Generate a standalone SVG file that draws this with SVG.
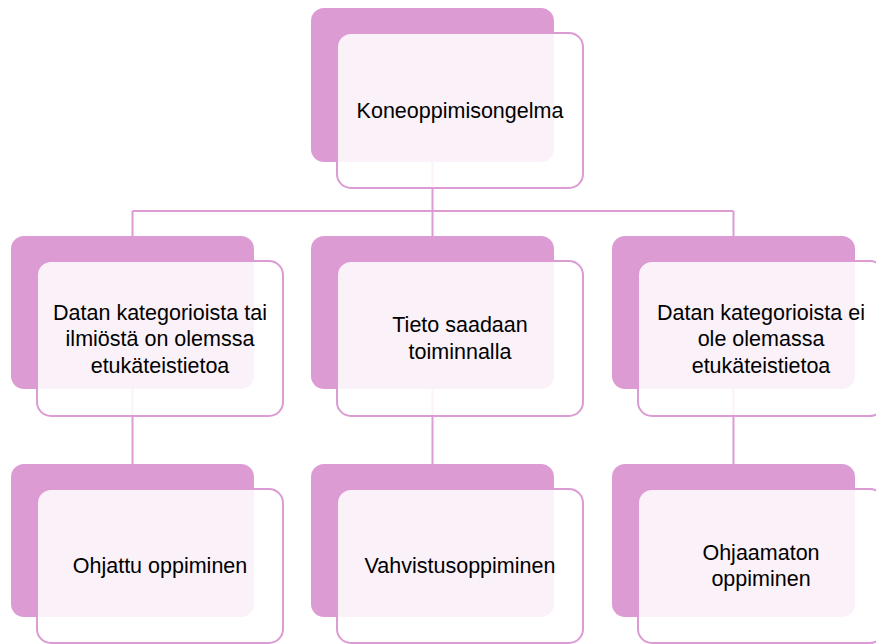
<svg xmlns="http://www.w3.org/2000/svg" width="876" height="644" viewBox="0 0 876 644">
<style>
.back{fill:#dc9bd3;}
.front{fill:#ffffff;fill-opacity:0.86;stroke:#dc9bd3;stroke-width:2;}
.conn{fill:none;stroke:#dc9bd3;stroke-width:2;}
text{font-family:"Liberation Sans",Arial,sans-serif;font-size:21.5px;fill:#000000;text-anchor:middle;}
</style>
<rect width="876" height="644" fill="#ffffff"/>
<g id="connectors">
<path class="conn" d="M432.5,150 V211 M132.5,211 H733.5 M132.5,211 V240 M432.5,211 V240 M733.5,211 V240"/>
<path class="conn" d="M132.5,380 V468 M432.5,380 V468 M733.5,380 V468"/>
</g>
<g id="n-root">
<rect class="back" x="311" y="8" width="243" height="154" rx="13"/>
<rect class="front" x="337" y="33" width="246" height="155" rx="14"/>
<text x="460" y="118">Koneoppimisongelma</text>
</g>
<g id="n-mid-left">
<rect class="back" x="11" y="236" width="243" height="153" rx="13"/>
<rect class="front" x="37" y="261" width="246" height="155" rx="14"/>
<text x="160" y="319.5">Datan kategorioista tai</text>
<text x="160" y="346">ilmiöstä on olemssa</text>
<text x="160" y="372.5">etukäteistietoa</text>
</g>
<g id="n-mid-center">
<rect class="back" x="311" y="236" width="243" height="153" rx="13"/>
<rect class="front" x="337" y="261" width="246" height="155" rx="14"/>
<text x="460" y="332">Tieto saadaan</text>
<text x="460" y="358.5">toiminnalla</text>
</g>
<g id="n-mid-right">
<rect class="back" x="612" y="236" width="243" height="153" rx="13"/>
<rect class="front" x="638" y="261" width="246" height="155" rx="14"/>
<text x="761" y="319.5">Datan kategorioista ei</text>
<text x="761" y="346">ole olemassa</text>
<text x="761" y="372.5">etukäteistietoa</text>
</g>
<g id="n-bot-left">
<rect class="back" x="11" y="464" width="243" height="153" rx="13"/>
<rect class="front" x="37" y="489" width="246" height="154" rx="14"/>
<text x="160" y="573">Ohjattu oppiminen</text>
</g>
<g id="n-bot-center">
<rect class="back" x="311" y="464" width="243" height="153" rx="13"/>
<rect class="front" x="337" y="489" width="246" height="154" rx="14"/>
<text x="460" y="573">Vahvistusoppiminen</text>
</g>
<g id="n-bot-right">
<rect class="back" x="612" y="464" width="243" height="153" rx="13"/>
<rect class="front" x="638" y="489" width="246" height="154" rx="14"/>
<text x="761" y="560">Ohjaamaton</text>
<text x="761" y="585.5">oppiminen</text>
</g>
</svg>
